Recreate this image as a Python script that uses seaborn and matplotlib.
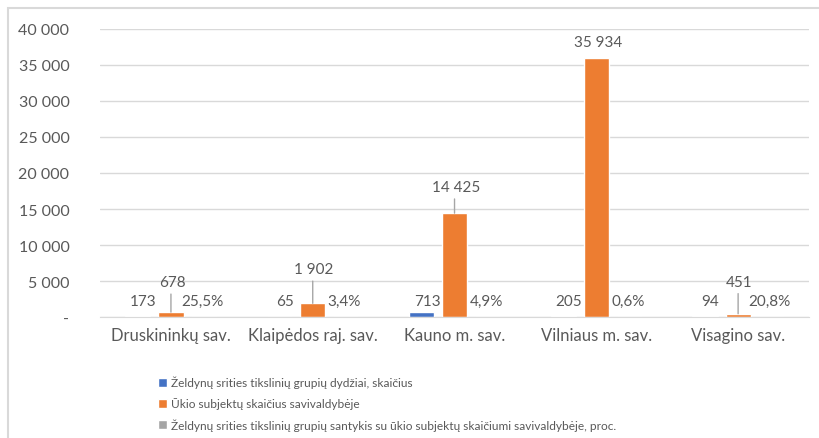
""" Želdynų tikslinės grupės ir ūkio subjektai pagal savivaldybes """

import matplotlib
matplotlib.use('Agg')
import matplotlib.pyplot as plt
import pandas as pd
import seaborn as sns
from matplotlib.patches import Rectangle
from matplotlib.ticker import FuncFormatter

CATEGORIES = ['Druskininkų sav.', 'Klaipėdos raj. sav.', 'Kauno m. sav.',
              'Vilniaus m. sav.', 'Visagino sav.']
GROUP_SIZE = [173, 65, 713, 205, 94]
SUBJECTS = [678, 1902, 14425, 35934, 451]
RATIO = [25.5, 3.4, 4.9, 0.6, 20.8]
SERIES = [
    'Želdynų srities tikslinių grupių dydžiai, skaičius',
    'Ūkio subjektų skaičius savivaldybėje',
    'Želdynų srities tikslinių grupių santykis su ūkio subjektų skaičiumi savivaldybėje, proc.',
]
COLOURS = ['#4472C4', '#ED7D31', '#A5A5A5']
TEXT_GREY = '#595959'
GRID_GREY = '#d9d9d9'
# labels of the orange bars were dragged upwards in the original (points)
LIFT = [21.5, 24.5, 18.7, 11.5, 23]


def thousands(v, _pos=None):
    if v == 0:
        return '-'
    return f'{v:,.0f}'.replace(',', ' ')


def build_frame():
    rows = []
    for name, values in zip(SERIES, [GROUP_SIZE, SUBJECTS, RATIO]):
        for cat, val in zip(CATEGORIES, values):
            rows.append({'savivaldybe': cat, 'serija': name, 'reiksme': val})
    return pd.DataFrame(rows)


def draw():
    sns.set_style('white')
    plt.rcParams['font.family'] = ['Lato', 'DejaVu Sans']

    fig, ax = plt.subplots(figsize=(8.2, 4.39), dpi=100)
    fig.subplots_adjust(left=0.122, right=0.9866, bottom=0.2756, top=0.9317)

    df = build_frame()
    sns.barplot(data=df, x='savivaldybe', y='reiksme', hue='serija',
                hue_order=SERIES, order=CATEGORIES, palette=COLOURS,
                width=0.7, gap=0.24, saturation=1, ax=ax, legend=True)

    ax.set_ylim(0, 40000)
    ax.set_yticks(range(0, 40001, 5000))
    ax.yaxis.set_major_formatter(FuncFormatter(thousands))
    ax.yaxis.grid(True, color=GRID_GREY, linewidth=1)
    ax.set_axisbelow(True)
    for side in ['top', 'right', 'left']:
        ax.spines[side].set_visible(False)
    ax.spines['bottom'].set_color(GRID_GREY)
    ax.tick_params(axis='y', length=0, pad=22, labelsize=11.5, labelcolor=TEXT_GREY)
    ax.tick_params(axis='x', length=0, pad=7, labelsize=12, labelcolor=TEXT_GREY)
    ax.set_xlabel('')
    ax.set_ylabel('')

    blue, orange, grey = ax.containers[:3]
    for i in range(len(CATEGORIES)):
        b, o, g = blue[i], orange[i], grey[i]
        bx = b.get_x() + b.get_width() / 2
        ox = o.get_x() + o.get_width() / 2
        gx = g.get_x() + g.get_width() / 2
        ax.annotate(f'{GROUP_SIZE[i]}', xy=(bx, 0), xytext=(4, 11.5),
                    textcoords='offset points', ha='center', va='center',
                    fontsize=11, color=TEXT_GREY)
        ax.annotate(f'{RATIO[i]:.1f}%'.replace('.', ','), xy=(gx, 0), xytext=(-1, 11.5),
                    textcoords='offset points', ha='center', va='center',
                    fontsize=11, color=TEXT_GREY)
        top = o.get_height()
        ax.annotate(thousands(SUBJECTS[i]), xy=(ox, top), xytext=(1, LIFT[i]),
                    textcoords='offset points', ha='center', va='center',
                    fontsize=11, color=TEXT_GREY)
        if LIFT[i] > 15:
            ax.annotate('', xy=(ox, top), xytext=(0, LIFT[i] - 8.5),
                        textcoords='offset points',
                        arrowprops={'arrowstyle': '-', 'color': '#a6a6a6',
                                    'lw': 1, 'shrinkA': 0, 'shrinkB': 0})

    handles, labels = ax.get_legend_handles_labels()
    ax.get_legend().remove()
    fig.legend(handles, labels, loc='upper left',
               bbox_to_anchor=(158 / 820, 1 - 377 / 439), frameon=False,
               fontsize=8.6, labelcolor=TEXT_GREY, handlelength=0.75,
               handleheight=0.75, handletextpad=0.3, labelspacing=0.75,
               borderaxespad=0, borderpad=0)

    fig.patches.append(Rectangle((8 / 820, -0.05), 1.2, 0.05 + 1 - 9 / 439,
                                 transform=fig.transFigure, fill=False,
                                 edgecolor=GRID_GREY, linewidth=1.5))

    fig.savefig('out.png', dpi=100)


if __name__ == '__main__':
    draw()
